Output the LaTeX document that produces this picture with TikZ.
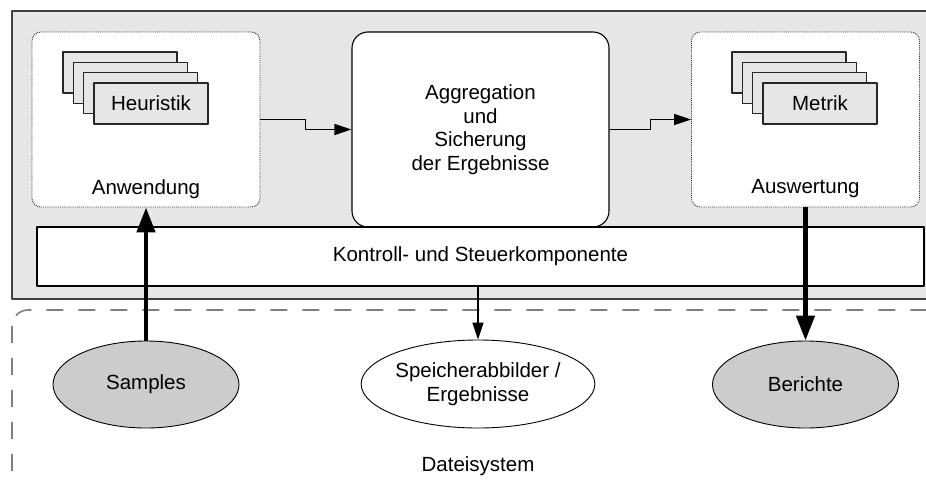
\documentclass[tikz,border=0pt]{standalone}
\usepackage{fontspec}
\setmainfont{Liberation Sans}
\usetikzlibrary{arrows.meta,shapes.geometric}

\definecolor{paneGray}{HTML}{E6E6E6}
\definecolor{fileGray}{HTML}{CCCCCC}
\definecolor{dashGray}{HTML}{808080}

\begin{document}
\begin{tikzpicture}[x=1pt, y=-1pt, line join=round,
    font=\fontsize{20.5}{23.5}\selectfont]
  % Stile fuer Kaesten, Stapel und Pfeile
  \tikzset{
    group/.style={draw=black!80, densely dotted, line width=0.9pt, fill=white,
      rounded corners=9pt, minimum width=228pt, minimum height=175pt},
    card/.style={draw=black!85, line width=1.1pt, fill=paneGray,
      minimum width=114pt, minimum height=41pt, inner sep=0pt},
    store/.style={ellipse, draw=black, line width=0.9pt, fill=fileGray,
      minimum width=186pt, minimum height=87pt, inner sep=0pt, align=center},
    flow/.style={line width=1.5pt, -{Triangle[length=17pt, width=11pt]}},
    bigflow/.style={line width=4.5pt, -{Triangle[length=25pt, width=18pt]}}
  }

  \useasboundingbox (0,0) rectangle (926,482);
  \clip (0,0) rectangle (926,482);

  % Dateisystem (gestrichelter Rahmen)
  \draw[dashGray, line width=1.6pt, dash pattern=on 17pt off 15pt, rounded corners=16pt]
    (12,310) rectangle (960,494);
  \node (fs) at (478,466) {Dateisystem};

  % Grauer Systemrahmen
  \draw[black!75, line width=1.1pt, fill=paneGray] (12,11) rectangle (960,299);

  % Anwendung mit Heuristiken
  \node[group] (anw) at (146,119.5) {};
  \node (anwlabel) at (146,189) {Anwendung};
  \node[card] (h1) at (120,72.5) {};
  \node[card] (h2) at (130.3,82.8) {};
  \node[card] (h3) at (140.7,93.2) {};
  \node[card] (heur) at (151,103.5) {Heuristik};

  % Aggregation
  \node[draw=black, line width=1.1pt, fill=white, rounded corners=16pt,
    minimum width=257pt, minimum height=195pt, align=center] (agg) at (480.5,129.5)
    {Aggregation\\und\\Sicherung\\der Ergebnisse};

  % Auswertung mit Metriken
  \node[group] (ausw) at (805.5,119.5) {};
  \node (auswlabel) at (805.5,189) {Auswertung};
  \node[card] (m1) at (789,72.5) {};
  \node[card] (m2) at (799.3,82.8) {};
  \node[card] (m3) at (809.7,93.2) {};
  \node[card] (metr) at (820,103.5) {Metrik};

  % Kontroll- und Steuerkomponente
  \node[draw=black, line width=1.1pt, fill=white, minimum width=887pt,
    minimum height=59pt] (ctrl) at (480.5,256.5) {Kontroll- und Steuerkomponente};

  % Dateien
  \node[store] (samples) at (146,384.5) {Samples};
  \node[store, fill=white, minimum width=190pt, minimum height=88pt] (spei) at (478,384)
    {Speicherabbilder /\\Ergebnisse};
  \node[store] (ber) at (805.5,384.5) {Berichte};

  % Pfeile
  \draw[flow] (anw.east) -- ++(45,0) |- (agg.west);
  \draw[flow] (agg.east) -- ++(41,0) |- (ausw.west);
  \draw[flow] (spei.north |- ctrl.south) -- (spei.north);
  \draw[bigflow] (samples.north) -- (anw.south);
  \draw[bigflow] (ausw.south) -- (ber.north);

\end{tikzpicture}
\end{document}
